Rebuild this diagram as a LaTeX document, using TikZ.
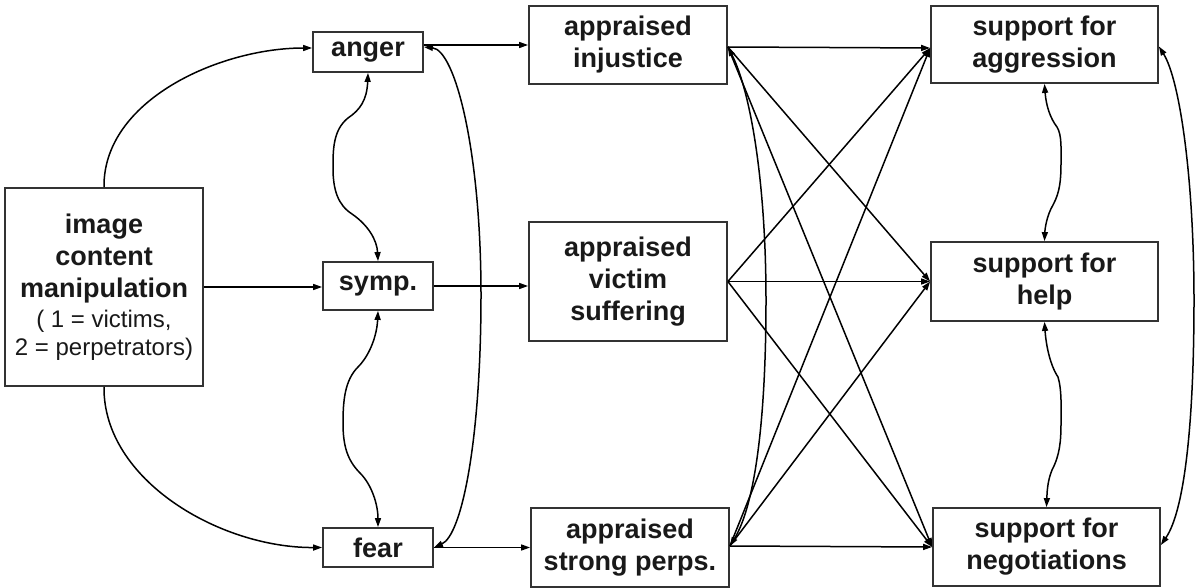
\documentclass[tikz,border=0pt]{standalone}
\usepackage{fontspec}
\setmainfont{Liberation Sans}
\usetikzlibrary{arrows.meta}
\begin{document}
\begin{tikzpicture}[x=1pt,y=-1pt,
  box/.style={draw=black!80, line width=1.8pt, fill=white, inner sep=0pt, align=center,
    font=\fontsize{27}{32}\selectfont\bfseries, text=black!90},
  conn/.style={line width=1.5pt, -{Triangle[length=9pt,width=6pt]}},
  dconn/.style={line width=1.5pt, {Triangle[length=9pt,width=6pt]}-{Triangle[length=9pt,width=6pt]}},
]
\useasboundingbox (0,0) rectangle (1200,588);

% nodes
\node[box, minimum width=198pt, minimum height=198pt] (img) at (104,287)
  {image\\content\\manipulation\\[-2pt]{\mdseries\fontsize{24}{28}\selectfont ( 1 = victims,}\\[-4pt]{\mdseries\fontsize{24}{28}\selectfont 2 = perpetrators)}};
\node[box, minimum width=110pt, minimum height=40pt] (anger) at (368,52) {anger};
\node[box, minimum width=110pt, minimum height=48pt] (symp) at (378,286) {symp.};
\node[box, minimum width=110pt, minimum height=39pt] (fear) at (378,547.5) {fear};

\node[box, minimum width=198pt, minimum height=78pt] (inj) at (628,45) {appraised\\injustice};
\node[box, minimum width=198pt, minimum height=119pt] (vic) at (628,281.5) {appraised\\victim\\suffering};
\node[box, minimum width=198pt, minimum height=79pt] (perp) at (630,547.5) {appraised\\strong perps.};

\node[box, minimum width=227pt, minimum height=77pt] (agg) at (1044.5,44.5) {support for\\aggression};
\node[box, minimum width=227pt, minimum height=79pt] (help) at (1044.5,281.5) {support for\\help};
\node[box, minimum width=227pt, minimum height=78pt] (neg) at (1046.5,547) {support for\\negotiations};

% left part
\draw[conn] (img.north) .. controls (103,100) and (220,48) .. ([yshift=4pt]anger.west);
\draw[conn] (img.east) -- (img.east -| symp.west);
\draw[conn] (img.south) .. controls (103,480) and (220,548) .. (fear.west);

\draw[dconn] (anger.south) .. controls (367,100) and (360,110) .. (348,118)
  .. controls (333,130) and (333,150) .. (333,168)
  .. controls (333,190) and (338,205) .. (352,214)
  .. controls (368,225) and (377,240) .. (symp.north);
\draw[dconn] (symp.south) .. controls (377,335) and (370,355) .. (358,367)
  .. controls (345,380) and (343,400) .. (343,423)
  .. controls (343,445) and (347,460) .. (360,473)
  .. controls (372,485) and (378,505) .. (fear.north);

\draw[dconn] ([yshift=5pt]anger.east) .. controls (455,50) and (481,150) .. (481,295)
  .. controls (481,440) and (462,535) .. (fear.east);

\draw[conn] (anger.east |- inj.west) -- (inj.west);
\draw[conn] (symp.east) -- (symp.east -| vic.west);
\draw[conn] (fear.east) -- (fear.east -| perp.west);

% right part
\coordinate (s1) at ([yshift=-2pt]inj.east);
\coordinate (s2) at (vic.east);
\coordinate (s3) at ([yshift=1.5pt]perp.east);
\coordinate (e1) at ([yshift=-3.5pt]agg.west);
\coordinate (e2) at (help.west);
\coordinate (e3) at (neg.west);

\foreach \s in {s1,s2,s3}{
  \foreach \e in {e1,e2,e3}{
    \draw[conn] (\s) -- (\e);
  }
}

\draw[dconn] (s1) .. controls (750,90) and (766,180) .. (766,300)
  .. controls (766,420) and (755,505) .. (s3);

\draw[dconn] (agg.south) .. controls (1046,105) and (1050,118) .. (1057,127)
  .. controls (1062,135) and (1061,150) .. (1061,162)
  .. controls (1061,180) and (1060,192) .. (1053,205)
  .. controls (1047,215) and (1045,228) .. (help.north);
\draw[dconn] (help.south) .. controls (1046,345) and (1050,365) .. (1058,377)
  .. controls (1062,390) and (1061,410) .. (1061,423)
  .. controls (1061,440) and (1060,455) .. (1052,470)
  .. controls (1047,482) and (1047,495) .. (neg.north);

\draw[dconn] ([yshift=-2pt]agg.east) .. controls (1180,80) and (1194,180) .. (1194,300)
  .. controls (1194,420) and (1185,510) .. ([yshift=2pt]neg.east);
\end{tikzpicture}
\end{document}
